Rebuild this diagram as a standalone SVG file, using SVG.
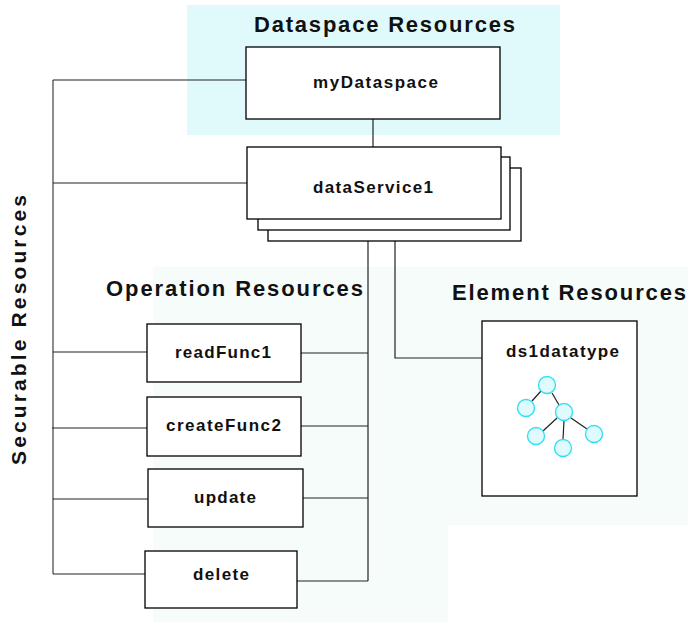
<svg xmlns="http://www.w3.org/2000/svg" width="688" height="622" viewBox="0 0 688 622">
  <style>
    .box { fill: #ffffff; stroke: #000000; stroke-width: 1.3; }
    .conn { fill: none; stroke: #222222; stroke-width: 1.2; }
    .trunk { fill: none; stroke: #707070; stroke-width: 1.6; }
    .title { font-family: "Liberation Sans", Arial, sans-serif; font-weight: bold; font-size: 22px; fill: #111111; }
    .side { font-family: "Liberation Sans", Arial, sans-serif; font-weight: bold; font-size: 21px; fill: #111111; }
    .label { font-family: "Liberation Sans", Arial, sans-serif; font-weight: bold; font-size: 17px; fill: #111111; }
    .tn { fill: #e0fbfd; stroke: #33e0f2; stroke-width: 1.4; }
    .te { stroke: #222222; stroke-width: 1.2; }
  </style>
  <rect width="688" height="622" fill="#ffffff"/>

  <g id="backgrounds">
    <rect x="187" y="5" width="373" height="130" fill="#e0fafc"/>
    <path d="M153 267 H688 V525 H448 V622 H153 Z" fill="#f5fcf9"/>
  </g>

  <g id="titles">
    <text class="title" x="254" y="32" textLength="261" lengthAdjust="spacing">Dataspace Resources</text>
    <text class="title" x="106" y="296" textLength="257" lengthAdjust="spacing">Operation Resources</text>
    <text class="title" x="452" y="300" textLength="234" lengthAdjust="spacing">Element Resources</text>
    <text class="side" transform="translate(26,330) rotate(-90)" text-anchor="middle" textLength="270" lengthAdjust="spacing">Securable Resources</text>
  </g>

  <g id="connectors">
    <path class="trunk" d="M53 80 V574"/>
    <path class="conn" d="M53 80 H246"/>
    <path class="conn" d="M53 183 H247"/>
    <path class="conn" d="M53 352 H147"/>
    <path class="conn" d="M52 428 H147"/>
    <path class="conn" d="M53 499 H148"/>
    <path class="conn" d="M53 574 H145"/>
    <path class="conn" d="M373 119 V147"/>
    <path class="conn" d="M368 219 V581"/>
    <path class="conn" d="M301 353 H368"/>
    <path class="conn" d="M301 426 H368"/>
    <path class="conn" d="M303 498 H368"/>
    <path class="conn" d="M297 581 H368"/>
    <path class="conn" d="M395 219 V358 H482"/>
  </g>

  <g id="myDataspace">
    <rect class="box" x="246" y="47" width="254" height="72"/>
    <text class="label" x="313" y="88" textLength="125" lengthAdjust="spacing">myDataspace</text>
  </g>

  <g id="dataService1">
    <rect class="box" x="268" y="168" width="253" height="73"/>
    <rect class="box" x="258" y="157" width="252" height="73"/>
    <rect class="box" x="247" y="147" width="254" height="72"/>
    <text class="label" x="313" y="193" textLength="120" lengthAdjust="spacing">dataService1</text>
  </g>

  <g id="readFunc1">
    <rect class="box" x="147" y="324" width="154" height="58"/>
    <text class="label" x="175" y="358" textLength="96" lengthAdjust="spacing">readFunc1</text>
  </g>

  <g id="createFunc2">
    <rect class="box" x="147" y="397" width="154" height="59"/>
    <text class="label" x="166" y="431" textLength="115" lengthAdjust="spacing">createFunc2</text>
  </g>

  <g id="update">
    <rect class="box" x="148" y="469" width="155" height="58"/>
    <text class="label" x="194" y="503" textLength="62" lengthAdjust="spacing">update</text>
  </g>

  <g id="delete">
    <rect class="box" x="145" y="551" width="152" height="57"/>
    <text class="label" x="193" y="580" textLength="56" lengthAdjust="spacing">delete</text>
  </g>

  <g id="ds1datatype">
    <rect class="box" x="482" y="321" width="155" height="175"/>
    <text class="label" x="506" y="357" textLength="113" lengthAdjust="spacing">ds1datatype</text>
    <g id="tree">
      <line class="te" x1="541" y1="391" x2="532" y2="401"/>
      <line class="te" x1="552" y1="393" x2="559" y2="405"/>
      <line class="te" x1="557" y1="418" x2="543" y2="431"/>
      <line class="te" x1="564" y1="421" x2="563" y2="439"/>
      <line class="te" x1="571" y1="418" x2="587" y2="429"/>
      <circle class="tn" cx="547" cy="385" r="8.5"/>
      <circle class="tn" cx="526" cy="408" r="8.5"/>
      <circle class="tn" cx="564" cy="412" r="8.5"/>
      <circle class="tn" cx="536" cy="436" r="8.5"/>
      <circle class="tn" cx="563" cy="448" r="8.5"/>
      <circle class="tn" cx="594" cy="434" r="8.5"/>
    </g>
  </g>
</svg>
